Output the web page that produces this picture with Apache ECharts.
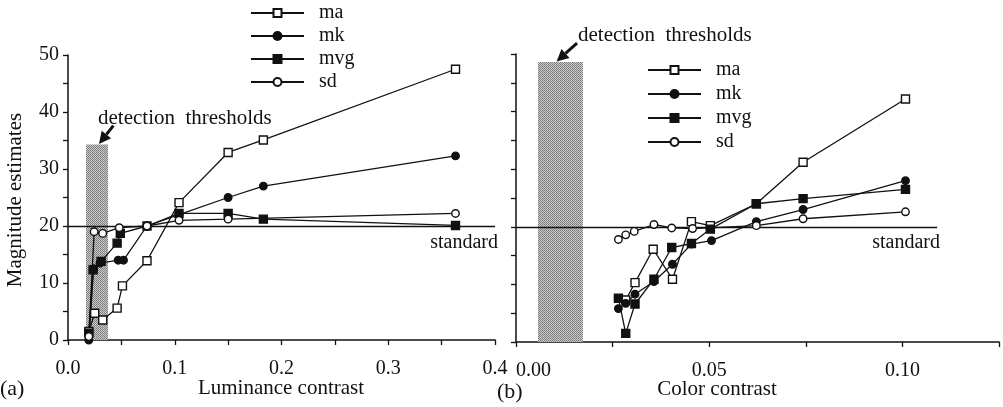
<!DOCTYPE html>
<html>
<head>
<meta charset="utf-8">
<script src="https://cdn.jsdelivr.net/npm/echarts@6/dist/echarts.min.js"></script>
<style>html,body{margin:0;padding:0;background:#fff}#c{width:1003px;height:407px}</style>
</head>
<body>
<div id="c"></div>
<script>
// ---------- data ----------
const seriesNames = ['ma', 'mk', 'mvg', 'sd'];

// (a) luminance contrast  [contrast, magnitude estimate]
const lumMa  = [[0.0195, 1.5], [0.025, 4.7], [0.0325, 3.5], [0.046, 5.6], [0.051, 9.5], [0.074, 13.9], [0.104, 24.1], [0.15, 32.9], [0.183, 35.1], [0.363, 47.5]];
const lumMk  = [[0.0195, 0], [0.024, 12.5], [0.03, 13.5], [0.047, 14], [0.052, 14], [0.074, 20], [0.104, 22], [0.15, 25], [0.183, 27], [0.363, 32.3]];
const lumMvg = [[0.0195, 1.2], [0.0235, 12.3], [0.031, 13.8], [0.046, 17], [0.049, 18.7], [0.074, 20], [0.104, 22.2], [0.15, 22.2], [0.183, 21.2], [0.363, 20.1]];
const lumSd  = [[0.0195, 0.6], [0.0245, 19], [0.0325, 18.7], [0.048, 19.7], [0.074, 20], [0.104, 21], [0.15, 21.2], [0.363, 22.2]];

// (b) color contrast
const colMa  = [[0.0284, 7.3], [0.0308, 10.3], [0.0355, 16.1], [0.0405, 10.9], [0.0454, 20.9], [0.0503, 20.2], [0.0622, 24], [0.0743, 31.2], [0.1008, 42.2]];
const colMk  = [[0.0265, 5.8], [0.0284, 6.7], [0.0308, 8.3], [0.0357, 10.5], [0.0405, 13.5], [0.0454, 17], [0.0506, 17.6], [0.0622, 20.9], [0.0743, 23], [0.1008, 28]];
const colMvg = [[0.0265, 7.6], [0.0284, 1.5], [0.0308, 6.6], [0.0357, 10.9], [0.0403, 16.4], [0.0454, 17.1], [0.0503, 19.6], [0.0622, 24], [0.0743, 24.9], [0.1008, 26.5]];
const colSd  = [[0.0265, 17.8], [0.0284, 18.6], [0.0306, 19.2], [0.0357, 20.4], [0.0403, 19.8], [0.0457, 19.7], [0.0622, 20.2], [0.0743, 21.4], [0.1008, 22.6]];

// detection threshold bands [xFrom, xTo, top]
const lumThreshold = [0.0169, 0.0375, 34.3];
const colThreshold = [0.0057, 0.0173, 48.6];
const standardValue = 20;
const lumStandardEnd = 0.4;
const colStandardEnd = 0.109;

// axis ranges / ticks
const yMin = 0, yMax = 50, yTick = 5, yLabelStep = 10;
const lumXMin = 0, lumXMax = 0.4, lumXTick = 0.05;
const colXMin = 0, colXMax = 0.125, colXTick = 0.025;

// ---------- styling ----------
const FONT = '"Liberation Serif", "DejaVu Serif", serif';
const BLACK = '#111';
const styles = {
  ma:  { symbol: 'rect',   size: 8,   fill: '#fff' },
  mk:  { symbol: 'circle', size: 7.5, fill: BLACK },
  mvg: { symbol: 'rect',   size: 8,   fill: BLACK },
  sd:  { symbol: 'circle', size: 7.5, fill: '#fff' }
};

function stipple() {
  const v = [
    [120, 205],
    [200, 135]
  ];
  const c = document.createElement('canvas');
  c.width = 2; c.height = 2;
  const g = c.getContext('2d');
  for (let y = 0; y < 2; y++) for (let x = 0; x < 2; x++) {
    g.fillStyle = 'rgb(' + v[y][x] + ',' + v[y][x] + ',' + v[y][x] + ')';
    g.fillRect(x, y, 1, 1);
  }
  return c;
}
const pattern = { image: stipple(), repeat: 'repeat' };

function mkSeries(name, data, idx) {
  const s = styles[name];
  return {
    type: 'line', name: name, data: data,
    xAxisIndex: idx, yAxisIndex: idx,
    symbol: s.symbol, symbolSize: s.size, showAllSymbol: true,
    lineStyle: { color: BLACK, width: 1.3 },
    itemStyle: { color: s.fill, borderColor: BLACK, borderWidth: 1.4 },
    z: 5, silent: true, emphasis: { disabled: true }
  };
}

function helperSeries(idx, th, stdEnd) {
  return {
    type: 'line', name: 'helper' + idx, data: [], xAxisIndex: idx, yAxisIndex: idx, z: 1, silent: true,
    markArea: {
      silent: true,
      itemStyle: { color: pattern, borderWidth: 0 },
      data: [[{ coord: [th[0], yMin] }, { coord: [th[1], th[2]] }]]
    },
    markLine: {
      silent: true, symbol: ['none', 'none'], label: { show: false },
      lineStyle: { color: BLACK, width: 1.3, type: 'solid' },
      data: [[{ coord: [0, standardValue] }, { coord: [stdEnd, standardValue] }]]
    }
  };
}

function xAxis(idx, min, max, tick, decimals, alignMin) {
  return {
    type: 'value', gridIndex: idx, min: min, max: max, interval: tick,
    axisLine: { show: true, onZero: false, lineStyle: { color: BLACK, width: 1.5 } },
    axisTick: { show: true, length: 5, lineStyle: { color: BLACK, width: 1.3 } },
    splitLine: { show: false },
    axisLabel: {
      color: BLACK, fontFamily: FONT, fontSize: 20, margin: 19,
      showMinLabel: true, showMaxLabel: true,
      alignMinLabel: alignMin || 'center',
      formatter: function (v) {
        const step = decimals === 1 ? 0.1 : 0.05;
        const r = v / step;
        return Math.abs(r - Math.round(r)) < 1e-6 ? v.toFixed(decimals) : '';
      }
    }
  };
}
function yAxis(idx, labels) {
  return {
    type: 'value', gridIndex: idx, min: yMin, max: yMax, interval: yTick,
    axisLine: { show: true, onZero: false, lineStyle: { color: BLACK, width: 1.5 } },
    axisTick: { show: true, length: 5, lineStyle: { color: BLACK, width: 1.3 } },
    splitLine: { show: false },
    axisLabel: {
      show: labels, color: BLACK, fontFamily: FONT, fontSize: 20, margin: 9,
      formatter: function (v) { return v % yLabelStep === 0 ? String(v) : ''; }
    }
  };
}
function legend(left, top, gap) {
  return {
    data: seriesNames, orient: 'vertical', left: left, top: top, padding: 0,
    itemWidth: 53, itemHeight: 10, itemGap: gap, selectedMode: false,
    textStyle: { fontFamily: FONT, fontSize: 20, color: BLACK, lineHeight: 20, padding: [0, 0, 0, 10] }
  };
}

const chart = echarts.init(document.getElementById('c'), null, { renderer: 'canvas' });
chart.setOption({
  animation: false,
  backgroundColor: '#fff',
  grid: [
    { left: 68, top: 55, width: 427, height: 285 },
    { left: 516, top: 54, width: 483, height: 288 }
  ],
  xAxis: [xAxis(0, lumXMin, lumXMax, lumXTick, 1), xAxis(1, colXMin, colXMax, colXTick, 2, 'left')],
  yAxis: [yAxis(0, true), yAxis(1, false)],
  legend: [legend(250, 3, 3), legend(647, 60, 4)],
  series: [
    helperSeries(0, lumThreshold, lumStandardEnd),
    helperSeries(1, colThreshold, colStandardEnd),
    mkSeries('ma', lumMa, 0), mkSeries('mk', lumMk, 0), mkSeries('mvg', lumMvg, 0), mkSeries('sd', lumSd, 0),
    mkSeries('ma', colMa, 1), mkSeries('mk', colMk, 1), mkSeries('mvg', colMvg, 1), mkSeries('sd', colSd, 1)
  ]
});

// annotation arrows placed through data coordinates
function arrow(gridIdx, from, to) {
  const p0 = chart.convertToPixel({ gridIndex: gridIdx }, from);
  const p1 = chart.convertToPixel({ gridIndex: gridIdx }, to);
  const dx = p1[0] - p0[0], dy = p1[1] - p0[1];
  const L = Math.sqrt(dx * dx + dy * dy), ux = dx / L, uy = dy / L;
  const hl = 12, hw = 6;
  const bx = p1[0] - ux * hl, by = p1[1] - uy * hl;
  return [
    { type: 'line', shape: { x1: p0[0], y1: p0[1], x2: bx, y2: by }, style: { stroke: BLACK, lineWidth: 3 }, z: 10 },
    { type: 'polygon', shape: { points: [[p1[0], p1[1]], [bx - uy * hw, by + ux * hw], [bx + uy * hw, by - ux * hw]] }, style: { fill: BLACK }, z: 10 }
  ];
}
function txt(x, y, text, size, align, rot) {
  return {
    type: 'text', x: x, y: y, rotation: rot || 0, z: 10,
    style: { text: text, font: size + 'px ' + FONT, fill: BLACK, align: align || 'left', verticalAlign: 'middle' }
  };
}

const g = [].concat(
  arrow(0, [0.0425, 37.6], [0.029, 34.4]),
  arrow(1, [0.0158, 51.9], [0.0105, 48.7]),
  [
    txt(98, 118, 'detection  thresholds', 21),
    txt(578, 35, 'detection  thresholds', 21),
    txt(498, 243, 'standard', 20, 'right'),
    txt(940, 243, 'standard', 20, 'right'),
    txt(281, 388, 'Luminance contrast', 21, 'center'),
    txt(717, 389, 'Color contrast', 21, 'center'),
    txt(15, 200, 'Magnitude estimates', 21, 'center', Math.PI / 2),
    txt(0, 389, '(a)', 22, 'left'),
    txt(497, 392, '(b)', 22, 'left')
  ]
);
chart.setOption({ graphic: g });
</script>
</body>
</html>
